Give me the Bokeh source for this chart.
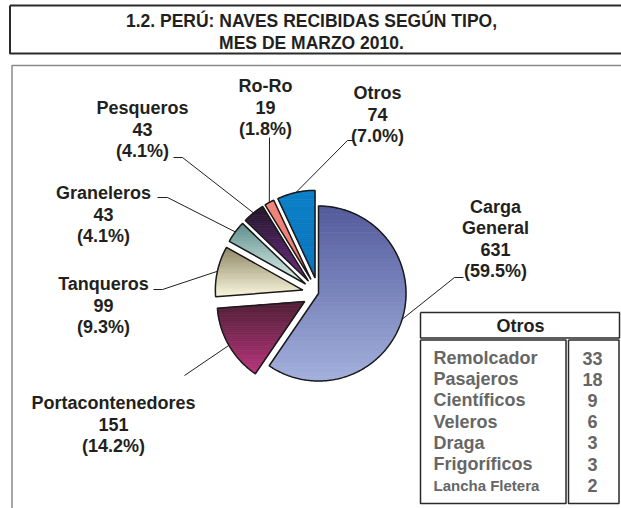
import numpy as np
from bokeh.plotting import figure
from bokeh.models import Range1d
from bokeh.core.properties import value
from bokeh.embed import file_html
from bokeh.resources import INLINE

# ---------------- data ----------------
categories = ["Carga General", "Portacontenedores", "Tanqueros", "Graneleros",
              "Pesqueros", "Ro-Ro", "Otros"]
counts = [631, 151, 99, 43, 43, 19, 74]
pct_labels = ["(59.5%)", "(14.2%)", "(9.3%)", "(4.1%)", "(4.1%)", "(1.8%)", "(7.0%)"]
otros_types = ["Remolcador", "Pasajeros", "Científicos", "Veleros", "Draga",
               "Frigoríficos", "Lancha Fletera"]
otros_counts = [33, 18, 9, 6, 3, 3, 2]
title_lines = ["1.2. PERÚ: NAVES RECIBIDAS SEGÚN TIPO,", "MES DE MARZO 2010."]
table_title = "Otros"

# ---------------- styles ----------------
top_colors = ["#535a9c", "#4e1f36", "#8d8464", "#5e8d8b", "#24172a", "#f28579", "#0b80c8"]
bot_colors = ["#a3b0dc", "#b8367b", "#faf6dc", "#e0f3ef", "#6c2c84", "#ec7a70", "#0a74bc"]
explode = [0, 16, 16, 16, 16, 16, 16]
name_lines = {"Carga General": ["Carga", "General"]}
label_pos = {  # center x, y of first line
    "Carga General": (495, 206),
    "Portacontenedores": (113, 402),
    "Tanqueros": (103, 283),
    "Graneleros": (103, 192),
    "Pesqueros": (142, 107),
    "Ro-Ro": (265, 85),
    "Otros": (377, 92),
}
leader_start = {
    "Carga General": [(463, 277), (454, 277)],
    "Portacontenedores": [(184, 375)],
    "Tanqueros": [(153, 289), (162, 289)],
    "Graneleros": [(157, 197), (167, 197)],
    "Pesqueros": [(173, 157), (182, 157)],
    "Ro-Ro": [(269, 137)],
    "Otros": [(353, 140), (347, 140)],
}
CX, CY, R = 318.0, 293.0, 87.5
LINE_H = 21.5
FONT = value("Liberation Sans")
TXT = "#231f20"

p = figure(width=621, height=508, x_range=Range1d(0, 621), y_range=Range1d(508, 0),
           toolbar_location=None, output_backend="svg", min_border=0,
           x_axis_location=None, y_axis_location=None)
p.grid.visible = False
p.outline_line_color = None
p.background_fill_color = "white"
p.border_fill_color = "white"

# frames
p.line([9.5, 640, 640, 9.5, 9.5], [5, 5, 53, 53, 5], line_color="#2a2a2a", line_width=2)
p.line([11.5, 11.5, 640], [520, 65, 65], line_color="#8a8a8a", line_width=1.5)
for i, t in enumerate(title_lines):
    p.text([311], [20.5 + i * 22], text=[t], text_font=FONT, text_font_style="bold",
           text_font_size="17.5px", text_align="center", text_baseline="middle",
           text_color=TXT)


def hex2rgb(h):
    return np.array([int(h[i:i + 2], 16) for i in (1, 3, 5)], dtype=float)


def rgb2hex(c):
    return "#%02x%02x%02x" % tuple(int(round(v)) for v in c)


def clip_half(pts, keep, inter):
    out = []
    n = len(pts)
    for i in range(n):
        a, b = pts[i], pts[(i + 1) % n]
        ka, kb = keep(a), keep(b)
        if ka:
            out.append(a)
            if not kb:
                out.append(inter(a, b))
        elif kb:
            out.append(inter(a, b))
    return out


def clip_band(pts, y0, y1):
    def ix(yv):
        def f(a, b):
            t = (yv - a[1]) / (b[1] - a[1])
            return (a[0] + t * (b[0] - a[0]), yv)
        return f
    q = clip_half(pts, lambda a: a[1] >= y0, ix(y0))
    if not q:
        return q
    return clip_half(q, lambda a: a[1] <= y1, ix(y1))


total = float(sum(counts))
cum = 0.0
outlines_x, outlines_y = [], []
band_x, band_y, band_c = [], [], []
mid_pts = {}
for i, cat in enumerate(categories):
    a0 = cum / total * 360.0
    a1 = (cum + counts[i]) / total * 360.0
    cum += counts[i]
    mid = np.radians((a0 + a1) / 2)
    ex, ey = CX + explode[i] * np.sin(mid), CY - explode[i] * np.cos(mid)
    th = np.radians(np.linspace(a0, a1, max(8, int((a1 - a0) * 1.5))))
    poly = [(ex, ey)] + [(ex + R * np.sin(t), ey - R * np.cos(t)) for t in th]
    mid_pts[cat] = (ex + R * np.sin(mid), ey - R * np.cos(mid))
    ys = [q[1] for q in poly]
    ymin, ymax = min(ys), max(ys)
    nb = 40
    edges = np.linspace(ymin, ymax, nb + 1)
    c0, c1 = hex2rgb(top_colors[i]), hex2rgb(bot_colors[i])
    for k in range(nb):
        piece = clip_band(poly, edges[k], edges[k + 1])
        if len(piece) < 3:
            continue
        f = (k + 0.5) / nb
        band_x.append([q[0] for q in piece])
        band_y.append([q[1] for q in piece])
        band_c.append(rgb2hex(c0 + (c1 - c0) * f))
    outlines_x.append([q[0] for q in poly])
    outlines_y.append([q[1] for q in poly])

p.patches(band_x, band_y, fill_color=band_c, line_color=band_c, line_width=0.8)
p.patches(outlines_x, outlines_y, fill_alpha=0, line_color="#1a1a1a", line_width=1.5)

# leaders and labels
for i, cat in enumerate(categories):
    pts = leader_start[cat] + [mid_pts[cat]]
    p.line([q[0] for q in pts], [q[1] for q in pts], line_color=TXT, line_width=1)
    lines = name_lines.get(cat, [cat]) + [str(counts[i]), pct_labels[i]]
    x0, y0 = label_pos[cat]
    p.text([x0] * len(lines), [y0 + j * LINE_H for j in range(len(lines))], text=lines,
           text_font=FONT, text_font_style="bold", text_font_size="18px",
           text_align="center", text_baseline="middle", text_color=TXT)

# table of "Otros"
p.line([420, 619, 619, 420, 420], [312, 312, 337.5, 337.5, 312], line_color="#2a2a2a", line_width=1.5)
p.line([420, 565.5, 565.5, 420, 420], [339.5, 339.5, 503, 503, 339.5], line_color="#2a2a2a", line_width=1.5)
p.line([568, 618.5, 618.5, 568, 568], [339.5, 339.5, 503, 503, 339.5], line_color="#2a2a2a", line_width=1.5)
p.text([520], [325], text=[table_title], text_font=FONT, text_font_style="bold",
       text_font_size="18px", text_align="center", text_baseline="middle", text_color=TXT)
row_y = [357.5 + j * 21.2 for j in range(len(otros_types))]
sizes = ["18px"] * (len(otros_types) - 1) + ["15px"]
for j in range(len(otros_types)):
    p.text([433], [row_y[j]], text=[otros_types[j]], text_font=FONT, text_font_style="bold",
           text_font_size=sizes[j], text_align="left", text_baseline="middle", text_color="#666666")
    p.text([592], [row_y[j]], text=[str(otros_counts[j])], text_font=FONT, text_font_style="bold",
           text_font_size="18px", text_align="center", text_baseline="middle", text_color="#666666")

open("out.html", "w").write(file_html(p, INLINE))
